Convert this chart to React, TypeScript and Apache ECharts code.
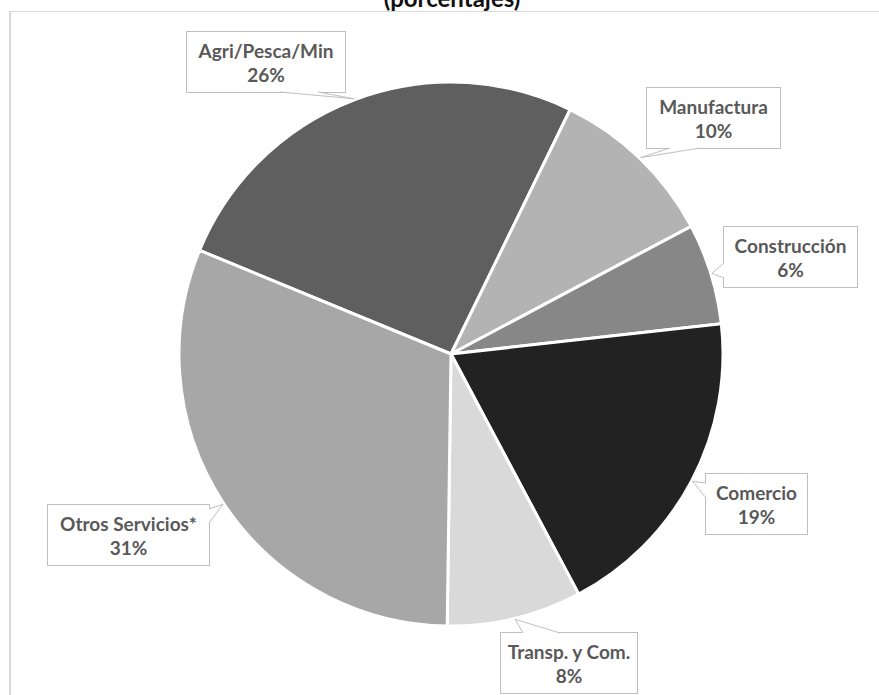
import React, { useEffect, useRef } from "react";
import * as echarts from "echarts";

// Sector shares of the economy (percent)
const CATEGORIES = [
  "Agri/Pesca/Min",
  "Manufactura",
  "Construcción",
  "Comercio",
  "Transp. y Com.",
  "Otros Servicios*",
];
const SHARES = [26, 10, 6, 19, 8, 31];
const SLICE_COLORS = ["#5f5f5f", "#b3b3b3", "#878787", "#222222", "#d9d9d9", "#a7a7a7"];
const TITLE = "(porcentajes)";

// Layout
const CENTER: [number, number] = [451, 354];
const RADIUS = 272;
const START_ANGLE = 157.6; // echarts degrees, counter-clockwise from 3 o'clock
const FONT = "Lato, 'Open Sans', sans-serif";
const TEXT_COLOR = "#595959";
const BOX_BORDER = "#bfbfbf";

// Callout boxes: left, top, width, height, tail side and tail base offsets along that side
type Callout = { l: number; t: number; w: number; h: number; side: "top" | "bottom" | "left" | "right"; a: number; b: number };
const CALLOUTS: Callout[] = [
  { l: 187, t: 32, w: 158, h: 60, side: "bottom", a: 93, b: 131 },
  { l: 647, t: 88, w: 133, h: 60, side: "bottom", a: 23, b: 53 },
  { l: 724, t: 227, w: 133, h: 60, side: "left", a: 36, b: 51 },
  { l: 706, t: 474, w: 101, h: 60, side: "left", a: 9, b: 24 },
  { l: 501, t: 633, w: 136, h: 60, side: "top", a: 22, b: 59 },
  { l: 48, t: 505, w: 161, h: 60, side: "right", a: 4, b: 18 },
];

function tailElements() {
  const total = SHARES.reduce((s, v) => s + v, 0);
  const startClock = 90 - START_ANGLE; // degrees clockwise from 12 o'clock
  let cum = 0;
  const els: any[] = [];
  SHARES.forEach((v, i) => {
    const mid = ((startClock + ((cum + v / 2) / total) * 360) * Math.PI) / 180;
    cum += v;
    const tip = [CENTER[0] + (RADIUS + 1) * Math.sin(mid), CENTER[1] - (RADIUS + 1) * Math.cos(mid)];
    const c = CALLOUTS[i];
    let b1: number[], b2: number[], b1in: number[], b2in: number[];
    if (c.side === "bottom") {
      const y = c.t + c.h;
      b1 = [c.l + c.a, y]; b2 = [c.l + c.b, y];
      b1in = [b1[0], y - 2]; b2in = [b2[0], y - 2];
    } else if (c.side === "top") {
      const y = c.t;
      b1 = [c.l + c.a, y]; b2 = [c.l + c.b, y];
      b1in = [b1[0], y + 2]; b2in = [b2[0], y + 2];
    } else if (c.side === "left") {
      const x = c.l;
      b1 = [x, c.t + c.a]; b2 = [x, c.t + c.b];
      b1in = [x + 2, b1[1]]; b2in = [x + 2, b2[1]];
    } else {
      const x = c.l + c.w;
      b1 = [x, c.t + c.a]; b2 = [x, c.t + c.b];
      b1in = [x - 2, b1[1]]; b2in = [x - 2, b2[1]];
    }
    els.push({
      type: "polygon",
      silent: true,
      z: 100,
      shape: { points: [b1in, b1, tip, b2, b2in] },
      style: { fill: "#ffffff", stroke: null },
    });
    els.push({
      type: "polyline",
      silent: true,
      z: 101,
      shape: { points: [b1, tip, b2] },
      style: { stroke: BOX_BORDER, lineWidth: 1, fill: null },
    });
  });
  return els;
}

export default function App() {
  const ref = useRef<HTMLDivElement>(null);

  useEffect(() => {
    if (!ref.current) return;
    const chart = echarts.init(ref.current, undefined, { renderer: "svg" });

    const data = CATEGORIES.map((name, i) => ({
      name,
      value: SHARES[i],
      itemStyle: { color: SLICE_COLORS[i] },
      label: { width: CALLOUTS[i].w },
    }));

    chart.setOption({
      animation: false,
      backgroundColor: "#ffffff",
      graphic: [
        {
          type: "line",
          silent: true,
          z: -1,
          shape: { x1: 10, y1: 11.5, x2: 900, y2: 11.5 },
          style: { stroke: "#d9d9d9", lineWidth: 1.2 },
        },
        {
          type: "line",
          silent: true,
          z: -1,
          shape: { x1: 10, y1: 11, x2: 10, y2: 720 },
          style: { stroke: "#d9d9d9", lineWidth: 2 },
        },
        {
          type: "text",
          silent: true,
          x: 452,
          y: 9,
          style: {
            text: TITLE,
            fill: "#111111",
            font: `bold 24px ${FONT}`,
            align: "center",
            verticalAlign: "bottom",
          },
        },
        ...tailElements(),
      ],
      series: [
        {
          type: "pie",
          center: CENTER,
          radius: RADIUS,
          startAngle: START_ANGLE,
          clockwise: true,
          avoidLabelOverlap: false,
          silent: true,
          data,
          itemStyle: { borderColor: "#ffffff", borderWidth: 3 },
          labelLine: { show: false },
          label: {
            show: true,
            position: "outside",
            formatter: (p: any) => `${p.name}\n${p.value}%`,
            fontFamily: FONT,
            fontWeight: "bold",
            fontSize: 19,
            lineHeight: 24,
            color: TEXT_COLOR,
            align: "center",
            backgroundColor: "#ffffff",
            borderColor: BOX_BORDER,
            borderWidth: 1,
            padding: [6, 0, 6, 0],
          },
          labelLayout: (params: any) => {
            const c = CALLOUTS[params.dataIndex];
            return {
              x: c.l + c.w / 2,
              y: c.t + c.h / 2,
              align: "center",
              verticalAlign: "middle",
            };
          },
        },
      ],
    });

    return () => chart.dispose();
  }, []);

  return (
    <div
      ref={ref}
      style={{ position: "absolute", left: 0, top: 0, width: 879, height: 695, overflow: "hidden" }}
    />
  );
}
